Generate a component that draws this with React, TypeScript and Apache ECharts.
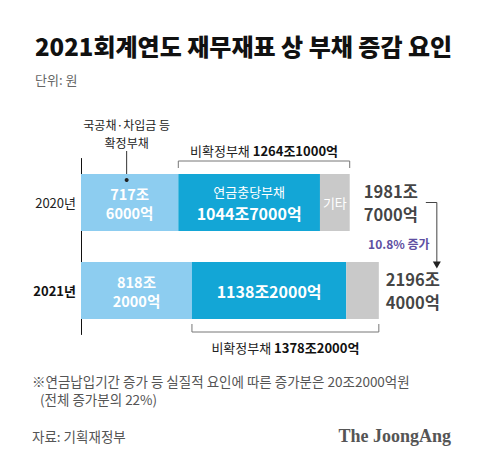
import React, { useEffect, useRef } from "react";
import * as echarts from "echarts";

const years = ["2020년", "2021년"];
const fixedDebt = [717.6, 818.2];
const pensionDebt = [1044.7, 1138.2];
const otherDebt = [219.4, 240.0];
const totals = [1981.7, 2196.4];
const fixedLabels = ["717조\n6000억", "818조\n2000억"];
const pensionLabels = ["1044조7000억", "1138조2000억"];
const otherLabels = ["기타", ""];
const totalLabels = ["1981조\n7000억", "2196조\n4000억"];
const nonFixedLabels = ["1264조1000억", "1378조2000억"];
const growthLabel = "10.8% 증가";

const FONT = "'Noto Sans CJK KR', 'Noto Sans', sans-serif";
const C_LIGHT = "#8dcdf0";
const C_TEAL = "#13a6d6";
const C_GRAY = "#c9c9c9";

export default function App() {
  const ref = useRef<HTMLDivElement>(null);
  useEffect(() => {
    if (!ref.current) return;
    const chart = echarts.init(ref.current, null, { renderer: "svg", width: 480, height: 466 });
    const option: any = {
      animation: false,
      backgroundColor: "#ffffff",
      textStyle: { fontFamily: FONT },
      grid: { left: 81, top: 158.5, width: 339, height: 176 },
      xAxis: { type: "value", min: 0, max: 2500, show: false },
      yAxis: {
        type: "category",
        inverse: true,
        data: years,
        axisLine: { show: true, lineStyle: { color: "#111", width: 1 } },
        axisTick: { show: false },
        axisLabel: {
          margin: 5,
          formatter: (v: string, i: number) => (i === 1 ? `{b|${v}}` : `{n|${v}}`),
          rich: {
            n: { fontFamily: FONT, fontSize: 13, color: "#222", fontWeight: "normal" },
            b: { fontFamily: FONT, fontSize: 13, color: "#111", fontWeight: "bold" },
          },
        },
      },
      series: [
        {
          type: "bar",
          stack: "debt",
          barWidth: 57,
          data: fixedDebt,
          itemStyle: { color: C_LIGHT },
          label: {
            show: true,
            position: "inside",
            formatter: (p: any) => fixedLabels[p.dataIndex],
            color: "#fff",
            fontFamily: FONT,
            fontSize: 14.5,
            fontWeight: "bold",
            lineHeight: 19,
          },
        },
        {
          type: "bar",
          stack: "debt",
          barWidth: 57,
          data: pensionDebt,
          itemStyle: { color: C_TEAL },
          label: {
            show: true,
            position: "inside",
            formatter: (p: any) =>
              p.dataIndex === 0 ? `{t|연금충당부채}\n{v|${pensionLabels[0]}}` : `{v|${pensionLabels[p.dataIndex]}}`,
            rich: {
              t: { color: "#fff", fontFamily: FONT, fontSize: 13, lineHeight: 21 },
              v: { color: "#fff", fontFamily: FONT, fontSize: 16, fontWeight: "bold", lineHeight: 23 },
            },
          },
        },
        {
          type: "bar",
          stack: "debt",
          barWidth: 57,
          data: otherDebt,
          itemStyle: { color: C_GRAY },
          label: {
            show: true,
            position: "inside",
            formatter: (p: any) => otherLabels[p.dataIndex],
            color: "#fff",
            fontFamily: FONT,
            fontSize: 13,
          },
        },
        {
          type: "scatter",
          symbolSize: 0,
          data: [
            { value: [totals[0], 0], label: { offset: [9, 0] } },
            { value: [totals[1], 1], label: { offset: [2, 0] } },
          ],
          label: {
            show: true,
            position: "right",
            formatter: (p: any) => totalLabels[p.dataIndex],
            color: "#111",
            fontFamily: FONT,
            fontSize: 16.5,
            fontWeight: "bold",
            lineHeight: 23,
          },
        },
      ],
    };
    chart.setOption(option);

    const px = (v: number, i: number) => chart.convertToPixel({ gridIndex: 0 }, [v, i]) as number[];
    const half = 28.5;
    const y0 = px(0, 0)[1];
    const y1 = px(0, 1)[1];
    const xFixedMid = px(fixedDebt[0] / 2, 0)[0] - 3;
    const xA = px(fixedDebt[0], 0)[0];
    const xB = px(totals[0], 0)[0];
    const xC = px(fixedDebt[1], 1)[0];
    const xD = px(totals[1], 1)[0];
    const topBr = y0 - half - 13;
    const botBr = y1 + half + 13;
    const arrowX = xD + 58;
    const arrowY1 = y0;
    const arrowY2 = y1 - 22;
    const lineColor = "#777";

    const graphic: any[] = [
      {
        type: "text",
        left: 35,
        top: 33,
        style: { text: "2021회계연도 재무재표 상 부채 증감 요인", fontFamily: FONT, fontSize: 24, fontWeight: 900, fill: "#111" },
      },
      {
        type: "text",
        left: 35,
        top: 73,
        style: { text: "단위: 원", fontFamily: FONT, fontSize: 13, fill: "#666" },
      },
      {
        type: "text",
        x: xFixedMid,
        y: 124,
        style: {
          text: "국공채·차입금 등",
          fontFamily: FONT,
          fontSize: 12,
          fill: "#222",
          align: "center",
          verticalAlign: "middle",
        },
      },
      {
        type: "text",
        x: xFixedMid,
        y: 142,
        style: {
          text: "확정부채",
          fontFamily: FONT,
          fontSize: 12,
          fill: "#222",
          align: "center",
          verticalAlign: "middle",
        },
      },
      { type: "line", shape: { x1: xFixedMid, y1: 151, x2: xFixedMid, y2: y0 - half + 6 }, style: { stroke: "#333", lineWidth: 1 } },
      { type: "circle", shape: { cx: xFixedMid, cy: y0 - half + 6, r: 2 }, style: { fill: "#222" }, z: 10 },
      {
        type: "polyline",
        shape: { points: [[xA, topBr + 7], [xA, topBr], [xB, topBr], [xB, topBr + 7]] },
        style: { stroke: lineColor, lineWidth: 1, fill: "none" },
      },
      {
        type: "text",
        x: (xA + xB) / 2,
        y: topBr - 11,
        style: {
          text: `{n|비확정부채 }{b|${nonFixedLabels[0]}}`,
          rich: {
            n: { fontFamily: FONT, fontSize: 13, fill: "#222" },
            b: { fontFamily: FONT, fontSize: 13, fontWeight: "bold", fill: "#111" },
          },
          align: "center",
          verticalAlign: "middle",
        },
      },
      {
        type: "polyline",
        shape: { points: [[xC, botBr - 8], [xC, botBr], [xD, botBr], [xD, botBr - 8]] },
        style: { stroke: lineColor, lineWidth: 1, fill: "none" },
      },
      {
        type: "text",
        x: (xC + xD) / 2,
        y: botBr + 15,
        style: {
          text: `{n|비확정부채 }{b|${nonFixedLabels[1]}}`,
          rich: {
            n: { fontFamily: FONT, fontSize: 13, fill: "#222" },
            b: { fontFamily: FONT, fontSize: 13, fontWeight: "bold", fill: "#111" },
          },
          align: "center",
          verticalAlign: "middle",
        },
      },
      {
        type: "polyline",
        shape: { points: [[arrowX - 11, arrowY1], [arrowX, arrowY1], [arrowX, arrowY2 - 6]] },
        style: { stroke: "#444", lineWidth: 1, fill: "none" },
      },
      {
        type: "polygon",
        shape: { points: [[arrowX - 4, arrowY2 - 7], [arrowX + 4, arrowY2 - 7], [arrowX, arrowY2]] },
        style: { fill: "#222" },
      },
      {
        type: "text",
        x: arrowX - 38,
        y: (arrowY1 + arrowY2) / 2 + 8,
        style: {
          text: growthLabel,
          fontFamily: FONT,
          fontSize: 12,
          fontWeight: "bold",
          fill: "#5e4fa2",
          align: "center",
          verticalAlign: "middle",
        },
      },
      {
        type: "text",
        left: 32,
        top: 374,
        style: {
          text: "※연금납입기간 증가 등 실질적 요인에 따른 증가분은 20조2000억원",
          fontFamily: FONT,
          fontSize: 13.5,
          fill: "#555",
        },
      },
      {
        type: "text",
        left: 40,
        top: 392,
        style: {
          text: "(전체 증가분의 22%)",
          fontFamily: FONT,
          fontSize: 13.5,
          fill: "#555",
        },
      },
      {
        type: "text",
        left: 32,
        top: 429,
        style: { text: "자료: 기획재정부", fontFamily: FONT, fontSize: 13.5, fill: "#555" },
      },
      {
        type: "text",
        right: 29,
        top: 427,
        style: {
          text: "The JoongAng",
          fontFamily: "'Liberation Serif', 'DejaVu Serif', serif",
          fontSize: 18,
          fontWeight: "bold",
          fill: "#555",
        },
      },
    ];
    chart.setOption({ graphic });
    return () => chart.dispose();
  }, []);
  return (
    <div
      ref={ref}
      style={{ position: "absolute", left: 0, top: 0, width: 480, height: 466, background: "#fff" }}
    />
  );
}
